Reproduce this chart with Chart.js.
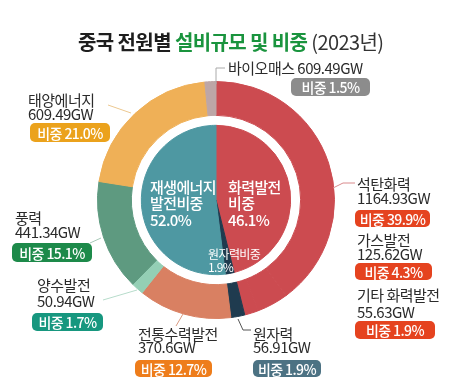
<!DOCTYPE html>
<html>
<head>
<meta charset="utf-8">
<script src="https://cdn.jsdelivr.net/npm/chart.js@4.4.0/dist/chart.umd.min.js"></script>
<style>
  html, body { margin: 0; padding: 0; background: #fff; }
  #wrap { width: 462px; height: 392px; position: relative; }
</style>
</head>
<body>
<div id="wrap"><canvas id="donut" width="462" height="392"></canvas></div>
<script>
// outer ring: each power source (GW, share %)
var sources = ['석탄화력', '가스발전', '기타 화력발전', '원자력', '전통수력발전', '양수발전', '풍력', '태양에너지', '바이오매스'];
var capacity = ['1164.93', '125.62', '55.63', '56.91', '370.6', '50.94', '441.34', '609.49', '609.49'];
var share = [39.9, 4.3, 1.9, 1.9, 12.7, 1.7, 15.1, 21.0, 1.5];

// inner pie: groups
var groups = ['화력발전\n비중', '원자력비중', '재생에너지\n발전비중'];
var groupShare = [46.1, 1.9, 52.0];

var ringColors = ['#cc4b50', '#cc4b50', '#cc4b50', '#1f3b4f', '#d98062', '#94cfb5', '#5e9a80', '#efb057', '#bda6a6'];
var pillColors = ['#e5431f', '#e5431f', '#e5431f', '#4c7283', '#ee7d1b', '#17977f', '#1d8a4a', '#eba21c', '#8c8c8c'];
var pieColors = ['#cc4b50', '#1f3b4f', '#4e98a2'];

var FONT = '"Noto Sans CJK KR", "Noto Sans", sans-serif';

// label layout: [name x, name y, value y, pill x, pill y, pill w, pill h, one line?]
var labelPos = [
    [357, 184, 198, 355, 210, 75, 17],
    [357, 240, 254, 355, 263, 77, 17],
    [357, 295, 312, 355, 321, 80, 18],
    [253, 334, 347, 253, 360, 68, 17],
    [138, 334, 347, 135, 360, 77, 17],
    [37, 285, 301, 32, 313, 71, 18],
    [15, 218, 232, 12, 243, 80, 19],
    [28, 100, 114, 30, 123, 80, 19],
    [228, 68, 68, 291, 78, 79, 18, true]
];
var leaders = [
    [[333, 188], [343, 183], [355, 183]],
    null,
    null,
    [[238, 319], [243, 330], [251, 330]],
    [[183, 314], [176, 326]],
    [[103, 300], [137, 290]],
    [[90, 243], [101, 238]],
    [[108, 105], [131, 113]],
    [[216, 84], [216, 68], [225, 68]]
];
var leaderColors = ['#d98a8c', null, null, '#555', '#d99a80', '#b7dccb', '#a8c9b8', '#ecc890', '#aaa'];

function roundRect(ctx, x, y, w, h, r) {
    ctx.beginPath();
    ctx.moveTo(x + r, y);
    ctx.arcTo(x + w, y, x + w, y + h, r);
    ctx.arcTo(x + w, y + h, x, y + h, r);
    ctx.arcTo(x, y + h, x, y, r);
    ctx.arcTo(x, y, x + w, y, r);
    ctx.closePath();
}

var labelPlugin = {
    id: 'labels',
    afterDraw: function (chart) {
        var ctx = chart.ctx;
        ctx.save();

        // title
        ctx.textBaseline = 'middle';
        ctx.textAlign = 'left';
        ctx.letterSpacing = '-0.6px';
        var tx = 78, ty = 42;
        var parts = [['중국 전원별 ', '#1e1e1e', '700'], ['설비규모 및 비중', '#1a943e', '700'], [' (2023년)', '#333', '400']];
        parts.forEach(function (p) {
            ctx.font = p[2] + ' 20px ' + FONT;
            ctx.fillStyle = p[1];
            ctx.fillText(p[0], tx, ty);
            tx += ctx.measureText(p[0]).width;
        });

        // leader lines
        ctx.letterSpacing = '0px';
        leaders.forEach(function (pts, i) {
            if (!pts) return;
            ctx.strokeStyle = leaderColors[i];
            ctx.lineWidth = 1;
            ctx.beginPath();
            ctx.moveTo(pts[0][0], pts[0][1]);
            for (var k = 1; k < pts.length; k++) ctx.lineTo(pts[k][0], pts[k][1]);
            ctx.stroke();
        });

        // outer labels
        sources.forEach(function (name, i) {
            var p = labelPos[i];
            ctx.fillStyle = '#2b2b2b';
            ctx.font = '400 15px ' + FONT;
            ctx.letterSpacing = '-0.5px';
            ctx.textAlign = 'left';
            if (p[7]) {
                ctx.fillText(name + ' ' + capacity[i] + 'GW', p[0], p[1]);
            } else {
                ctx.fillText(name, p[0], p[1]);
                ctx.fillText(capacity[i] + 'GW', p[0], p[2]);
            }
            ctx.fillStyle = pillColors[i];
            roundRect(ctx, p[3], p[4], p[5], p[6], 5);
            ctx.fill();
            ctx.fillStyle = '#fff';
            ctx.font = '500 14px ' + FONT;
            ctx.letterSpacing = '-0.6px';
            ctx.textAlign = 'center';
            ctx.fillText('비중 ' + share[i].toFixed(1) + '%', p[3] + p[5] / 2, p[4] + p[6] / 2 + 1);
        });

        // inner pie labels
        ctx.fillStyle = '#fff';
        ctx.textAlign = 'left';
        ctx.letterSpacing = '-0.6px';
        ctx.font = '500 15px ' + FONT;
        var renew = groups[2].split('\n').concat([groupShare[2].toFixed(1) + '%']);
        renew.forEach(function (t, k) { ctx.fillText(t, 150, 187 + k * 16.5); });
        var fossil = groups[0].split('\n').concat([groupShare[0].toFixed(1) + '%']);
        fossil.forEach(function (t, k) { ctx.fillText(t, 228, 187 + k * 16.5); });
        ctx.font = '400 12px ' + FONT;
        ctx.fillText(groups[1], 208, 254);
        ctx.fillText(groupShare[1].toFixed(1) + '%', 208, 267);

        ctx.restore();
    }
};

var ctx = document.getElementById('donut').getContext('2d');
var chart = new Chart(ctx, {
    type: 'doughnut',
    data: {
        labels: sources,
        datasets: [{
            data: share,
            backgroundColor: ringColors,
            borderColor: ringColors,
            borderWidth: 1,
            weight: 34
        }, {
            data: [1],
            backgroundColor: 'rgba(0,0,0,0)',
            borderWidth: 0,
            weight: 10
        }, {
            data: groupShare,
            backgroundColor: pieColors,
            borderColor: pieColors,
            borderWidth: 1,
            weight: 75
        }]
    },
    options: {
        responsive: false,
        animation: false,
        cutout: 0,
        layout: { padding: { left: 97, right: 127, top: 81, bottom: 73 } },
        plugins: {
            legend: { display: false },
            tooltip: { enabled: false }
        }
    },
    plugins: [labelPlugin]
});
</script>
</body>
</html>
